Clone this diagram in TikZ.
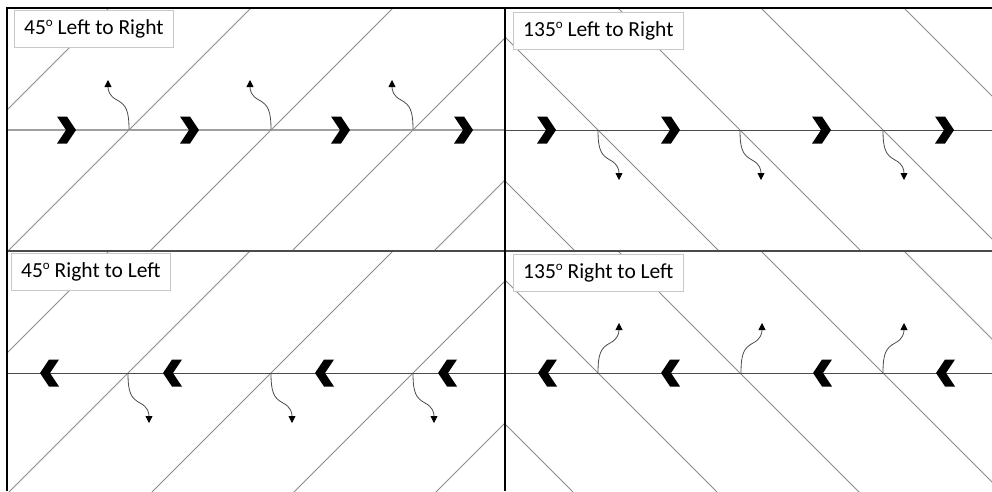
\documentclass[tikz,border=0pt]{standalone}
\usepackage{fontspec}
\setmainfont{Carlito}
\usepackage{tikz}
\usetikzlibrary{arrows.meta,calc}
\usepackage{xcolor}
\definecolor{hatchgray}{RGB}{140,140,140}
\definecolor{axisgray}{RGB}{75,75,75}
\definecolor{lightaxis}{RGB}{160,160,160}
\definecolor{boxgray}{RGB}{200,200,200}

% small raised degree sign
\newcommand\degsign{\raisebox{0.75ex}{\fontsize{13}{13}\selectfont o}}
% wavy arrow: #1 start coordinate, #2 x sign, #3 y sign
\newcommand\wavearrow[3]{%
  \draw[wiggle] (#1) .. controls ($(#1)+(0,#3*20)$) and ($(#1)+(#2*3,#3*25)$) .. ($(#1)+(#2*12,#3*30)$)
    .. controls ($(#1)+(#2*20,#3*34)$) and ($(#1)+(#2*21,#3*40)$) .. ($(#1)+(#2*21,#3*50)$);}

\begin{document}
\begin{tikzpicture}[x=1pt,y=-1pt,
    tag/.style={draw=boxgray,fill=white,anchor=north west,inner xsep=10pt,inner ysep=0pt,
      minimum height=37pt,font=\fontsize{21.5}{24}\selectfont},
    hatch/.style={hatchgray,line width=0.8pt},
    wiggle/.style={axisgray,line width=0.8pt,-{Triangle[length=7pt,width=7pt,color=black]}}]
  \useasboundingbox (0,0) rectangle (992,491);
  % diagonal lines
  \begin{scope}
    \clip (7,8) rectangle (505,251);
    \foreach \c in {-13,129,271,413,555}
      \draw[hatch] (\c-200,330) -- (\c+200,-70);
  \end{scope}
  \begin{scope}
    \clip (505,8) rectangle (992,251);
    \foreach \c in {454,598,740,883,1026}
      \draw[hatch] (\c-200,-70) -- (\c+200,330);
  \end{scope}
  \begin{scope}
    \clip (7,251) rectangle (505,491);
    \foreach \c in {-13,128,271,413,555}
      \draw[hatch] (\c-200,573) -- (\c+200,173);
  \end{scope}
  \begin{scope}
    \clip (505,251) rectangle (992,491);
    \foreach \c in {454,598,740,883,1026}
      \draw[hatch] (\c-200,173) -- (\c+200,573);
  \end{scope}
  % flow lines
  \draw[lightaxis,line width=1.5pt] (7,130) -- (505,130);
  \draw[axisgray,line width=0.8pt] (505,130) -- (992,130);
  \draw[axisgray,line width=0.8pt] (7,373) -- (992,373);
  % frame
  \draw[axisgray,line width=1.5pt] (7,251) -- (992,251);
  \draw[black,line width=1.5pt] (7,491) -- (7,8) -- (992,8);
  \draw[black,line width=1.5pt] (505,8) -- (505,491);
  % chevrons
  \foreach \cx/\cy in {67/130,190/130,341/130,464/130,547/130,671/130,822/130,945/130}
    \fill[black] (\cx-10,\cy-13.5) -- ++(10,0) -- ++(9,13.5) -- ++(-9,13.5) -- ++(-10,0) -- ++(9,-13.5) -- cycle;
  \foreach \cx/\cy in {49/373,172/373,324/373,447/373,547/373,670/373,822/373,945/373}
    \fill[black] (\cx+10,\cy-13.5) -- ++(-10,0) -- ++(-9,13.5) -- ++(9,13.5) -- ++(10,0) -- ++(-9,-13.5) -- cycle;
  % wavy arrows
  \coordinate (tl1) at (129,130); \coordinate (tl2) at (271,130); \coordinate (tl3) at (413,130);
  \coordinate (tr1) at (598,130); \coordinate (tr2) at (740,130); \coordinate (tr3) at (883,130);
  \coordinate (bl1) at (128,373); \coordinate (bl2) at (271,373); \coordinate (bl3) at (413,373);
  \coordinate (br1) at (598,373); \coordinate (br2) at (741,373); \coordinate (br3) at (883,373);
  \foreach \p in {tl1,tl2,tl3} {\wavearrow{\p}{-1}{-1}}
  \foreach \p in {tr1,tr2,tr3} {\wavearrow{\p}{1}{1}}
  \foreach \p in {bl1,bl2,bl3} {\wavearrow{\p}{1}{1}}
  \foreach \p in {br1,br2,br3} {\wavearrow{\p}{1}{-1}}
  % labels
  \node[tag] (lblTL) at (14,10) {45\degsign{} Left to Right};
  \node[tag] (lblTR) at (513,12) {135\degsign{} Left to Right};
  \node[tag] (lblBL) at (11,253) {45\degsign{} Right to Left};
  \node[tag] (lblBR) at (513,254) {135\degsign{} Right to Left};
\end{tikzpicture}
\end{document}
